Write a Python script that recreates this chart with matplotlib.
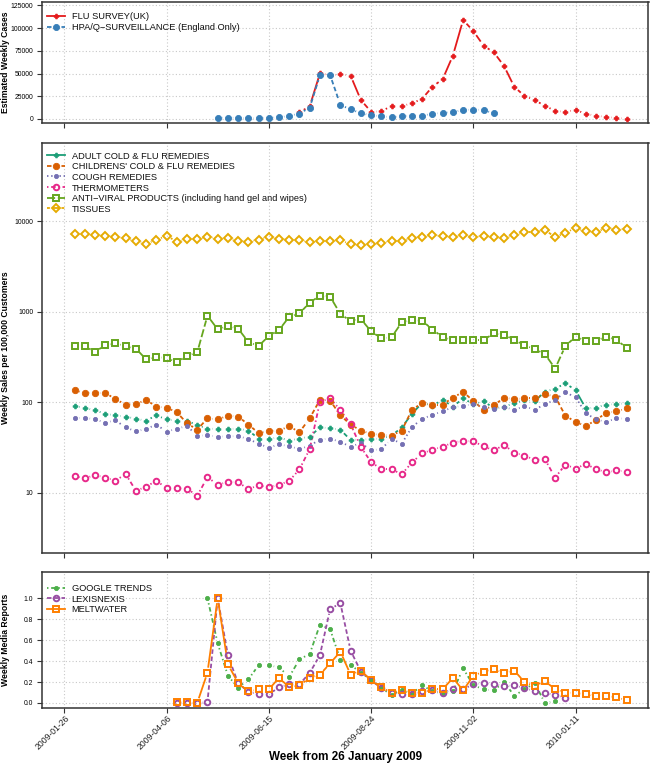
import numpy as np
import matplotlib
matplotlib.use('Agg')
import matplotlib.pyplot as plt
import matplotlib.dates as mdates
from matplotlib.transforms import ScaledTranslation, blended_transform_factory
from matplotlib.ticker import FixedLocator, FixedFormatter, NullLocator

plt.rcParams['font.family'] = ['Liberation Sans', 'DejaVu Sans']

# ---------------- data ----------------
START = np.datetime64('2009-01-26')
tick_weeks = [0, 10, 20, 30, 40, 50]

flu_weeks = list(range(23, 56))
flu_survey = [7300, 14000, 50200, 48000, 49000, 47600, 20900, 8000, 8500, 14300,
              14300, 17200, 22300, 35500, 43800, 69600, 108800, 96700, 80600, 73300,
              58300, 35500, 25300, 20900, 14300, 9100, 7700, 10200, 5500, 3700,
              2200, 1100, 500]
hpa_weeks = list(range(15, 43))
hpa = [1200, 1500, 1200, 700, 800, 1200, 1800, 3500, 6000, 12500, 48000, 48000,
       15500, 10500, 6500, 4000, 3000, 2000, 2800, 3500, 3500, 6000, 6500, 7700,
       9900, 10300, 9900, 6200]

sales_weeks = list(range(1, 56))
adult = [92, 87, 82, 75, 72, 70, 66, 63, 72, 65, 63, 63, 56, 51.5, 51, 51, 51.4, 49, 40, 40,
         41, 38, 40, 42, 53, 52, 50, 38.5, 39, 39.5, 40, 43, 53, 75, 99, 92, 107, 90, 111, 96,
         103, 87, 90, 98, 107, 103, 132, 142, 163, 137, 86, 88, 95, 96, 98]
childrens = [137, 128, 127, 128, 109, 95, 96, 107, 90, 88, 78, 59, 50, 67, 65, 71.5, 70, 57, 46, 48,
             49, 54.5, 47, 67, 107, 105, 72, 57, 49, 45, 44, 43, 49, 83, 99, 95, 95, 113, 131, 104,
             83, 93, 113, 109, 111, 111, 124, 116, 71.5, 61, 55, 64, 77, 80, 86]
cough = [67, 68, 65, 60, 63.5, 53, 48, 51, 57, 47.6, 51.4, 55, 43, 43.4, 42, 42.3, 42.6, 39.5, 35, 31.7,
         34.5, 32.8, 30.6, 33.3, 39, 40, 36.6, 32.5, 35.7, 29.6, 30.6, 39.5, 35.1, 53.6, 66, 73, 80, 89, 92, 96,
         90, 85, 89, 83, 91, 83, 96, 107, 130, 114, 76, 65, 61, 67, 66]
thermo = [15.5, 14.5, 15.8, 14.8, 13.7, 16.2, 10.6, 11.7, 13.7, 11.3, 11.3, 11.2, 9.3, 15.0, 12.3, 13.3,
          13.2, 11.0, 12.2, 11.6, 12.3, 13.6, 18.3, 30.6, 102, 111, 82.6, 57.4, 32.2, 22.0, 18.3, 18.3,
          16.1, 21.8, 27.4, 30.1, 32.5, 36.0, 37.9, 37.2, 32.8, 29.6, 33.9, 27.9, 25.9, 23.2, 23.6, 14.8,
          20.6, 18.6, 20.9, 18.4, 16.9, 17.8, 17.2]
antiviral = [421, 421, 361, 432, 450, 421, 394, 300, 318, 310, 280, 326, 358, 910, 643, 700, 655, 466,
             421, 543, 632, 888, 967, 1268, 1515, 1476, 950, 795, 837, 611, 512, 525, 769, 809, 800, 640,
             529, 490, 490, 490, 490, 581, 562, 490, 428, 390, 343, 237, 421, 534, 482, 482, 534, 490, 403]
tissues = [7340, 7280, 7100, 6920, 6800, 6520, 6040, 5690, 6245, 6970, 5985, 6350, 6350, 6800, 6460,
           6520, 6090, 5985, 6300, 6800, 6460, 6245, 6245, 5890, 6040, 6140, 6190, 5640, 5500, 5590,
           5790, 6140, 6040, 6630, 6800, 7100, 6860, 6800, 7040, 6680, 6970, 6680, 6570, 7100, 7590,
           7590, 8120, 6680, 7530, 8450, 7790, 7590, 8550, 8120, 8330]

google_weeks = list(range(14, 49))
google = [1.0, 0.57, 0.26, 0.146, 0.226, 0.36, 0.36, 0.34, 0.25, 0.417, 0.468, 0.748, 0.704, 0.41,
          0.363, 0.29, 0.22, 0.14, 0.08, 0.12, 0.09, 0.17, 0.11, 0.09, 0.11, 0.33, 0.17, 0.13, 0.12,
          0.20, 0.07, 0.13, 0.19, 0.0, 0.02]
lexis_weeks = list(range(11, 50))
lexis = [0, 0, 0, 0.01, 1.0, 0.455, 0.188, 0.108, 0.083, 0.083, 0.15, 0.18, 0.18, 0.287, 0.458, 0.898,
         0.952, 0.50, 0.30, 0.22, 0.14, 0.10, 0.09, 0.09, 0.11, 0.12, 0.10, 0.13, 0.13, 0.18, 0.19, 0.18,
         0.16, 0.17, 0.14, 0.115, 0.099, 0.073, 0.051]
melt_weeks = list(range(11, 56))
melt = [0.01, 0.005, 0.0, 0.29, 1.0, 0.37, 0.19, 0.11, 0.13, 0.13, 0.24, 0.15, 0.17, 0.24, 0.27, 0.38,
        0.49, 0.27, 0.31, 0.216, 0.15, 0.095, 0.124, 0.10, 0.10, 0.13, 0.13, 0.24, 0.12, 0.26, 0.30, 0.32,
        0.29, 0.31, 0.20, 0.16, 0.21, 0.13, 0.10, 0.095, 0.086, 0.064, 0.064, 0.054, 0.025]

# ---------------- helpers ----------------
W, H = 650, 765
DPI = 100
fig = plt.figure(figsize=(W / DPI, H / DPI), dpi=DPI)

LEFT, RIGHT = 41.7, 648.5
BOX_TOP = (2.0, 123.0)
BOX_MID = (143.3, 552.7)
BOX_BOT = (572.3, 707.7)

LW = 1.3
GAP = 5.0
GRID = '#C8C8C8'
FRAME = '#333333'

LS = {
    'solid': '-',
    'dashed': (0, (2.5, 1.5)),
    'dotted': (0, (0.8, 1.5)),
    'dotdash': (0, (0.8, 1.5, 2.5, 1.5)),
    'longdash': (0, (4.5, 1.5)),
    'twodash': (0, (1.6, 1.2, 4.0, 1.2)),
}


def to_num(weeks):
    d = START + np.array(weeks, dtype='int64') * np.timedelta64(7, 'D')
    return mdates.date2num(d.astype('datetime64[D]').astype(object))


def make_axes(box):
    top, bottom = box
    return fig.add_axes([LEFT / W, 1 - bottom / H, (RIGHT - LEFT) / W, (bottom - top) / H])


xlim = (float(to_num([0])[0]) - 7 * 2.21, float(to_num([0])[0]) + 7 * 57.13)
tick_nums = to_num(tick_weeks)
tick_labels = [str((START + np.timedelta64(7 * w, 'D'))) for w in tick_weeks]


def style_axes(ax, yticks, ylabels):
    ax.set_xlim(*xlim)
    ax.xaxis.set_major_locator(FixedLocator(tick_nums))
    ax.xaxis.set_minor_locator(NullLocator())
    ax.set_xticklabels([])
    ax.yaxis.set_major_locator(FixedLocator(yticks))
    ax.yaxis.set_major_formatter(FixedFormatter(ylabels))
    ax.yaxis.set_minor_locator(NullLocator())
    ax.tick_params(axis='both', direction='out', length=3.6, width=0.8, color=FRAME,
                   labelsize=4.9, pad=2.5)
    ax.tick_params(axis='x', labelbottom=False)
    for s in ax.spines.values():
        s.set_linewidth(1.1)
        s.set_color(FRAME)
    ax.grid(True, color=GRID, linestyle=(0, (1, 2)), linewidth=0.8)
    ax.set_axisbelow(True)


def draw_b(ax, weeks, vals, color, ls, marker, ms, filled=True, mew=1.1):
    x = to_num(weeks)
    y = np.array(vals, dtype=float)
    pts = ax.transData.transform(np.column_stack([x, y]))
    inv = ax.transData.inverted()
    for i in range(len(pts) - 1):
        p0, p1 = pts[i], pts[i + 1]
        d = p1 - p0
        L = np.hypot(*d)
        if L <= 2 * GAP:
            continue
        a = p0 + d / L * GAP
        b = p1 - d / L * GAP
        seg = inv.transform(np.array([a, b]))
        ax.plot(seg[:, 0], seg[:, 1], color=color, linestyle=LS[ls], linewidth=LW,
                solid_capstyle='butt', dash_capstyle='butt', zorder=2)
    ax.plot(x, y, linestyle='none', marker=marker, markersize=ms,
            markerfacecolor=color if filled else 'none', markeredgecolor=color,
            markeredgewidth=mew if not filled else 0.6, zorder=3)


def legend(ax, box, ys, entries):
    top, bottom = box
    fx = lambda px: (px - LEFT) / (RIGHT - LEFT)
    fy = lambda py: (bottom - py) / (bottom - top)
    for py, (label, color, ls, marker, ms, filled, mew) in zip(ys, entries):
        y = fy(py)
        ax.plot([fx(46.7), fx(65.0)], [y, y], transform=ax.transAxes, color=color,
                linestyle=LS[ls], linewidth=LW, clip_on=False, dash_capstyle='butt')
        ax.plot([fx(55.85)], [y], transform=ax.transAxes, linestyle='none', marker=marker,
                markersize=ms, markerfacecolor=color if filled else 'none',
                markeredgecolor=color, markeredgewidth=mew if not filled else 0.6,
                clip_on=False)
        ax.text(fx(71.5), y, label, transform=ax.transAxes, ha='left', va='center_baseline',
                fontsize=6.7, color='#111111')


# ---------------- top panel ----------------
ax1 = make_axes(BOX_TOP)
ax1.set_ylim(-4400, 128600)
style_axes(ax1, [0, 25000, 50000, 75000, 100000, 125000],
           ['0', '25000', '50000', '75000', '100000', '125000'])
C_RED, C_BLUE = '#E41A1C', '#377EB8'
draw_b(ax1, flu_weeks, flu_survey, C_RED, 'solid', 'P', 3.4)
draw_b(ax1, hpa_weeks, hpa, C_BLUE, 'dashed', 'o', 4.4)
legend(ax1, BOX_TOP, [15.7, 26.9], [
    ('FLU SURVEY(UK)', C_RED, 'solid', 'P', 3.4, True, 1),
    ('HPA/Q\u2212SURVEILLANCE (England Only)', C_BLUE, 'dashed', 'o', 4.4, True, 1),
])

# ---------------- middle panel ----------------
ax2 = make_axes(BOX_MID)
ax2.set_yscale('log')
ax2.set_ylim(10 ** 0.3403, 10 ** 4.864)
style_axes(ax2, [10, 100, 1000, 10000], ['10', '100', '1000', '10000'])
C_AD, C_CH, C_CO, C_TH, C_AV, C_TI = '#1B9E77', '#D95F02', '#7570B3', '#E7298A', '#66A61E', '#E6AB02'
sales = [
    ('ADULT COLD & FLU REMEDIES', adult, C_AD, 'solid', 'P', 3.4, True, 1),
    ("CHILDRENS' COLD & FLU REMEDIES", childrens, C_CH, 'dashed', 'o', 4.6, True, 1),
    ('COUGH REMEDIES', cough, C_CO, 'dotted', 'o', 3.0, True, 1),
    ('THERMOMETERS', thermo, C_TH, 'dotdash', 'o', 4.0, False, 1.4),
    ('ANTI\u2212VIRAL PRODUCTS (including hand gel and wipes)', antiviral, C_AV, 'longdash', 's', 3.9, False, 1.4),
    ('TISSUES', tissues, C_TI, 'twodash', 'D', 4.0, False, 1.4),
]
for label, vals, color, ls, mk, ms, filled, mew in sales:
    draw_b(ax2, sales_weeks, vals, color, ls, mk, ms, filled, mew)
legend(ax2, BOX_MID, [155.3 + 10.6 * i for i in range(6)],
       [(l, c, ls, mk, ms, f, mw) for l, v, c, ls, mk, ms, f, mw in sales])

# ---------------- bottom panel ----------------
ax3 = make_axes(BOX_BOT)
ax3.set_ylim(-0.045, 1.248)
style_axes(ax3, [0, 0.2, 0.4, 0.6, 0.8, 1.0], ['0.0', '0.2', '0.4', '0.6', '0.8', '1.0'])
C_G, C_L, C_M = '#4DAF4A', '#984EA3', '#FF7F00'
draw_b(ax3, google_weeks, google, C_G, 'dotdash', 'o', 3.0, True)
draw_b(ax3, lexis_weeks, lexis, C_L, 'dashed', 'o', 4.0, False, 1.4)
draw_b(ax3, melt_weeks, melt, C_M, 'solid', 's', 4.0, False, 1.4)
legend(ax3, BOX_BOT, [587.7, 598.3, 609.0], [
    ('GOOGLE TRENDS', C_G, 'dotdash', 'o', 3.0, True, 1),
    ('LEXISNEXIS', C_L, 'dashed', 'o', 4.0, False, 1.4),
    ('MELTWATER', C_M, 'solid', 's', 4.0, False, 1.4),
])

# rotated date labels
trans = blended_transform_factory(ax3.transData, ax3.transAxes) + \
    ScaledTranslation(3.5 / DPI, -9.0 / DPI, fig.dpi_scale_trans)
for xn, lab in zip(tick_nums, tick_labels):
    ax3.text(xn, 0, lab, transform=trans, rotation=45, ha='right', va='center',
             rotation_mode='anchor', fontsize=6.2, color='#222222', clip_on=False)

# axis titles
def ylab(text, box):
    top, bottom = box
    fig.text(5.5 / W, 1 - (top + bottom) / 2 / H, text, rotation=90, ha='center', va='center',
             fontsize=6.2, fontweight='bold')

ylab('Estimated Weekly Cases', BOX_TOP)
ylab('Weekly Sales per 100,000 Customers', BOX_MID)
ylab('Weekly Media Reports', BOX_BOT)
fig.text(346 / W, 1 - 757 / H, 'Week from 26 January 2009', ha='center', va='center',
         fontsize=8.4, fontweight='bold')

fig.savefig('out.png', dpi=DPI)
